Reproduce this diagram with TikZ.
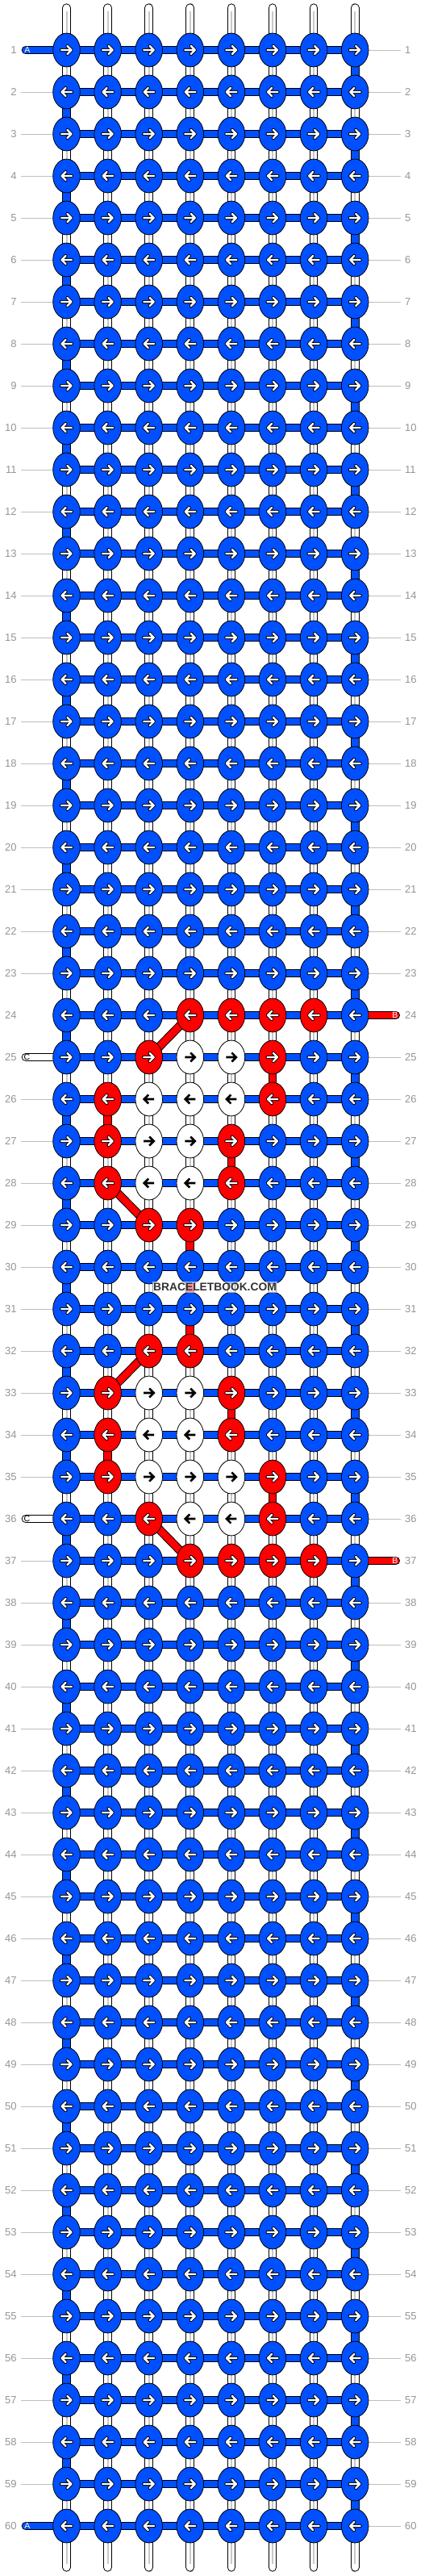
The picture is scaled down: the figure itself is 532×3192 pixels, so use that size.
\documentclass[tikz,border=0pt]{standalone}
\usepackage{fontspec}
\setmainfont{Liberation Sans}
\usetikzlibrary{shapes.geometric}
\definecolor{kblue}{RGB}{0,80,255}
\definecolor{kred}{RGB}{255,0,0}
\definecolor{numgray}{RGB}{150,150,150}
\definecolor{linegray}{RGB}{190,190,190}
\definecolor{stripe}{RGB}{200,200,200}
\pgfdeclarelayer{bg}
\pgfdeclarelayer{threads}
\pgfdeclarelayer{bars}
\pgfsetlayers{bg,threads,bars,main}
\tikzset{
  knot/.style={ellipse, draw=black, line width=0.8pt, minimum width=33.6pt, minimum height=41.8pt, inner sep=0pt},
  knotB/.style={knot, fill=kblue},
  knotR/.style={knot, fill=kred},
  knotW/.style={knot, fill=white},
  seg/.style={draw=black, line width=1pt, double=#1, double distance=8.7pt},
  vthread/.style={draw=black, line width=1pt, double=white, double distance=8.7pt, line cap=round},
  vstripe/.style={draw=stripe, line width=2pt},
  arrO/.style={draw=black, line width=4.2pt, line cap=round, line join=round},
  arrI/.style={draw=white, line width=2.4pt, line cap=round, line join=round},
  arrK/.style={draw=black, line width=2.6pt, line join=miter},
  num/.style={text=numgray, font=\fontsize{13}{13}\selectfont, inner sep=0pt},
  lbl/.style={draw=linegray, line width=0.8pt},
  stublab/.style={font=\fontsize{10.5}{10.5}\selectfont, inner sep=0pt},
}
\expandafter\def\csname pat24\endcsname{B,B,B,R,R,R,R,B}
\expandafter\def\csname pat25\endcsname{B,B,R,W,W,R,B,B}
\expandafter\def\csname pat26\endcsname{B,R,W,W,W,R,B,B}
\expandafter\def\csname pat27\endcsname{B,R,W,W,R,B,B,B}
\expandafter\def\csname pat28\endcsname{B,R,W,W,R,B,B,B}
\expandafter\def\csname pat29\endcsname{B,B,R,R,B,B,B,B}
\expandafter\def\csname pat32\endcsname{B,B,R,R,B,B,B,B}
\expandafter\def\csname pat33\endcsname{B,R,W,W,R,B,B,B}
\expandafter\def\csname pat34\endcsname{B,R,W,W,R,B,B,B}
\expandafter\def\csname pat35\endcsname{B,R,W,W,W,R,B,B}
\expandafter\def\csname pat36\endcsname{B,B,R,W,W,R,B,B}
\expandafter\def\csname pat37\endcsname{B,B,B,R,R,R,R,B}
\def\WW{W}
\begin{document}
\begin{tikzpicture}[x=1pt,y=-1pt]
\useasboundingbox (0,0) rectangle (532,3192);
\begin{pgfonlayer}{bg}
  \fill[white] (0,0) rectangle (532,3192);
\end{pgfonlayer}
% vertical threads
\foreach \c in {1,...,8}{
  \coordinate (top-\c) at ({82.5+(\c-1)*51.1},9.7);
  \coordinate (bot-\c) at ({82.5+(\c-1)*51.1},3181.3);
  \begin{pgfonlayer}{threads}
    \draw[vthread] (top-\c) -- (bot-\c);
    \draw[vstripe] ([yshift=-4pt]top-\c) -- ([yshift=4pt]bot-\c);
  \end{pgfonlayer}
}
% knots and arrows
\foreach \r in {1,...,60}{
  \pgfmathsetmacro{\yy}{62+(\r-1)*52}
  \ifcsname pat\r\endcsname \edef\plist{\csname pat\r\endcsname}\else\def\plist{B,B,B,B,B,B,B,B}\fi
  \ifodd\r\relax \def\dir{1}\else \def\dir{-1}\fi
  \foreach \k [count=\c] in \plist {
    \node[knot\k] (k-\r-\c) at ({82.5+(\c-1)*51.1},\yy) {};
    \begin{scope}[shift={(k-\r-\c.center)}, xscale=\dir]
      \ifx\k\WW
        \draw[arrK] (-6.5,0)--(5.5,0) (0.5,-5.5)--(6,0)--(0.5,5.5);
      \else
        \draw[arrO] (-6.5,0)--(6,0) (1,-5)--(6,0)--(1,5);
        \draw[arrI] (-6.5,0)--(6,0) (1,-5)--(6,0)--(1,5);
      \fi
    \end{scope}
  }
  % row numbers
  \node[num, anchor=east] (nl-\r) at (20.8,\yy) {\r};
  \node[num, anchor=west] (nr-\r) at (502,\yy) {\r};
}
% label lines
\begin{pgfonlayer}{bars}
\foreach \r in {2,...,23,26,27,28,29,30,31,32,33,34,35,37,38,...,59}{
  \pgfmathsetmacro{\yy}{62+(\r-1)*52}
  \coordinate (ll-\r) at (26,\yy);
  \draw[lbl] (ll-\r) -- (k-\r-1.center);
}
\foreach \r in {1,...,23,25,26,...,36,38,39,...,60}{
  \pgfmathsetmacro{\yy}{62+(\r-1)*52}
  \coordinate (rl-\r) at (497,\yy);
  \draw[lbl] (k-\r-8.center) -- (rl-\r);
}
% horizontal bars
\foreach \r in {1,...,60}{
  \draw[seg=kblue] (k-\r-1.center) -- (k-\r-8.center);
}
% edge turns
\foreach \r in {1,...,59}{
  \pgfmathtruncatemacro{\rn}{\r+1}
  \ifodd\r\relax
    \draw[seg=kblue] (k-\r-8.center) -- (k-\rn-8.center);
  \else
    \draw[seg=kblue] (k-\r-1.center) -- (k-\rn-1.center);
  \fi
}
% red vertical segments
\foreach \r/\c in {25/6,26/2,27/5,29/4,30/4,31/4,33/5,34/2,35/6}{
  \pgfmathtruncatemacro{\rn}{\r+1}
  \draw[seg=kred] (k-\r-\c.center) -- (k-\rn-\c.center);
}
% red diagonals
\draw[seg=kred] (k-24-4.center) -- (k-25-3.center);
\draw[seg=kred] (k-28-2.center) -- (k-29-3.center);
\draw[seg=kred] (k-32-3.center) -- (k-33-2.center);
\draw[seg=kred] (k-36-3.center) -- (k-37-4.center);
% stubs
\coordinate (sA1) at (32,62);
\coordinate (sA60) at (32,3130);
\coordinate (sB24) at (490.7,1258);
\coordinate (sB37) at (490.7,1934);
\coordinate (sC25) at (32,1310);
\coordinate (sC36) at (32,1882);
\draw[seg=kblue, line cap=round] (sA1) -- (k-1-1.center);
\draw[seg=kblue, line cap=round] (sA60) -- (k-60-1.center);
\draw[seg=kred, line cap=round] (sB24) -- (k-24-8.center);
\draw[seg=kred, line cap=round] (sB37) -- (k-37-8.center);
\draw[seg=white, line cap=round] (sC25) -- (k-25-1.center);
\draw[seg=white, line cap=round] (sC36) -- (k-36-1.center);
\end{pgfonlayer}
\node[stublab, text=white] (tA1) at (33.8,62) {A};
\node[stublab, text=white] (tA60) at (33.8,3130) {A};
\node[stublab, text=white] (tB24) at (489.8,1258) {B};
\node[stublab, text=white] (tB37) at (489.8,1934) {B};
\node[stublab, text=black] (tC25) at (33.5,1310) {C};
\node[stublab, text=black] (tC36) at (33.5,1882) {C};
% watermark
\node[font=\bfseries\fontsize{13.8}{14}\selectfont, text=black!80, fill=white, fill opacity=0.6, text opacity=1, inner xsep=1.5pt, inner ysep=2pt] (wm) at (266.5,1595) {BRACELETBOOK.COM};
\end{tikzpicture}
\end{document}
